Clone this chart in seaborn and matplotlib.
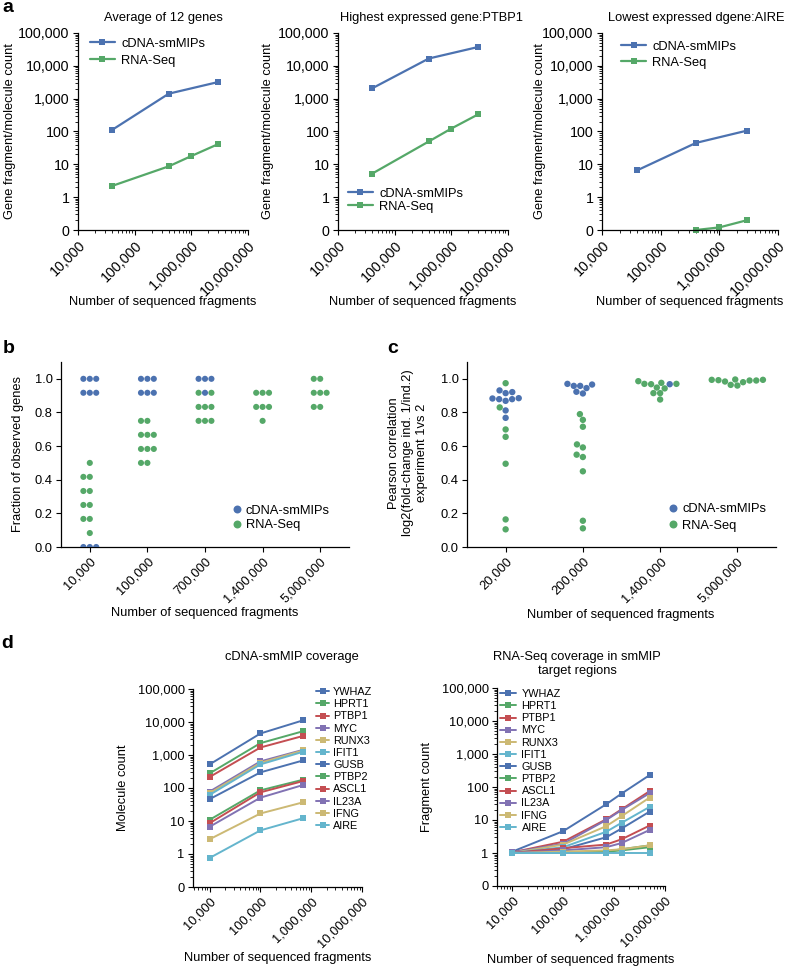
import numpy as np
import pandas as pd
import matplotlib.pyplot as plt
import seaborn as sns
from matplotlib.ticker import LogLocator, NullFormatter

sns.set_style("ticks", {"axes.edgecolor": "black", "text.color": "black",
                        "xtick.color": "black", "ytick.color": "black",
                        "axes.labelcolor": "black"})
plt.rcParams["font.family"] = ["Liberation Sans", "DejaVu Sans"]

W, H = 788, 967
blue, green = "#4C72B0", "#55A868"
methods = ["cDNA-smMIPs", "RNA-Seq"]

# ---------------- panel a (log axes, the floor 0.1 is labelled "0")
a_titles = ["Average of 12 genes", "Highest expressed gene:PTBP1", "Lowest expressed dgene:AIRE"]
a_cdna_x = [40000, 400000, 3000000]
a_rna_x = [40000, 400000, 1000000, 3000000]
avg_cdna = [112, 1420, 3220]
avg_rna = [2.2, 8.7, 17.9, 41.6]
ptbp1_cdna = [2060, 16700, 37600]
ptbp1_rna = [5.2, 49.7, 123, 335]
aire_cdna = [6.6, 45, 107]
aire_rna = [np.nan, 0.1, 0.12, 0.2]

count_ticks = [0.1, 1, 10, 100, 1000, 10000, 100000]
count_labels = ["0", "1", "10", "100", "1,000", "10,000", "100,000"]
frag_ticks = [1e4, 1e5, 1e6, 1e7]
frag_labels = ["10,000", "100,000", "1,000,000", "10,000,000"]

# ---------------- panel b: fraction of observed genes
b_cats = ["10,000", "100,000", "700,000", "1,400,000", "5,000,000"]
b_cdna = [
    [1.0, 1.0, 1.0, 0.917, 0.917, 0.917, 0.0, 0.0, 0.0],
    [1.0, 1.0, 1.0, 0.917, 0.917, 0.917],
    [1.0, 1.0, 1.0, 0.917],
    [],
    [],
]
b_rna = [
    [0.5, 0.417, 0.417, 0.333, 0.333, 0.25, 0.25, 0.167, 0.167, 0.083],
    [0.75, 0.75, 0.667, 0.667, 0.667, 0.583, 0.583, 0.583, 0.5, 0.5],
    [0.917, 0.917, 0.833, 0.833, 0.833, 0.75, 0.75, 0.75],
    [0.917, 0.917, 0.917, 0.833, 0.833, 0.833, 0.75],
    [1.0, 1.0, 0.917, 0.917, 0.917, 0.833, 0.833],
]
frac_ticks = [0.0, 0.2, 0.4, 0.6, 0.8, 1.0]

# ---------------- panel c: pearson correlation
c_cats = ["20,000", "200,000", "1,400,000", "5,000,000"]
c_cdna = [
    [0.931, 0.915, 0.921, 0.885, 0.879, 0.869, 0.879, 0.883, 0.812, 0.768],
    [0.970, 0.958, 0.958, 0.945, 0.966, 0.923, 0.913],
    [0.968],
    [],
]
c_rna = [
    [0.974, 0.83, 0.699, 0.655, 0.495, 0.164, 0.105],
    [0.79, 0.756, 0.715, 0.61, 0.592, 0.549, 0.535, 0.45, 0.156, 0.111],
    [0.976, 0.968, 0.948, 0.970, 0.986, 0.970, 0.915, 0.915, 0.943, 0.877],
    [0.996, 0.994, 0.992, 0.990, 0.964, 0.960, 0.980, 0.984, 0.990, 0.994],
]

# ---------------- panel d: per-gene coverage
d_genes = ["YWHAZ", "HPRT1", "PTBP1", "MYC", "RUNX3", "IFIT1",
           "GUSB", "PTBP2", "ASCL1", "IL23A", "IFNG", "AIRE"]
d_cdna_x = [10000, 100000, 700000]
d_cdna = [
    [520, 4490, 11300],
    [278, 2290, 5280],
    [216, 1690, 3800],
    [78, 640, 1440],
    [70, 580, 1380],
    [62, 520, 1260],
    [46, 298, 687],
    [10.9, 85, 179],
    [8.6, 74, 163],
    [6.7, 51, 124],
    [2.8, 16.9, 37],
    [0.76, 5.2, 12.2],
]
d_rna_x = [10000, 100000, 700000, 1400000, 5000000]
d_rna = [
    [1.1, 4.6, 30, 63, 230],
    [1.0, 1.05, 1.1, 1.2, 1.5],
    [1.05, 2.2, 10.5, 21, 75],
    [1.05, 1.9, 10, 20, 65],
    [1.0, 1.8, 6.5, 13, 48],
    [1.0, 1.5, 4.4, 8.2, 25],
    [1.0, 1.3, 3.0, 5.5, 18],
    [1.0, 1.0, 1.1, 1.3, 1.7],
    [1.0, 1.4, 1.8, 2.6, 6.8],
    [1.0, 1.2, 1.5, 2.0, 5.0],
    [1.0, 1.1, 1.2, 1.3, 1.7],
    [1.0, 1.0, 1.0, 1.0, 1.0],
]
gene_colors = sns.color_palette("deep6") * 2

fig = plt.figure(figsize=(W / 100, H / 100), dpi=100)
FS = 9.3


def add_ax(box):
    l, t, r, b = box
    return fig.add_axes([l / W, 1 - b / H, (r - l) / W, (b - t) / H])


def put_labels(ax, box, xlabel, xpos, ylabel, ypos):
    # place axis label centres at pixel positions
    l, t, r, b = box
    ax.set_xlabel(xlabel, fontsize=FS, va="center", ha="center")
    ax.xaxis.set_label_coords((xpos[0] - l) / (r - l), (b - xpos[1]) / (b - t))
    ax.set_ylabel(ylabel, fontsize=FS, va="center", ha="center", linespacing=1.2)
    ax.yaxis.set_label_coords((ypos[0] - l) / (r - l), (b - ypos[1]) / (b - t))


def px_text(x, y, s, **kw):
    fig.text(x / W, 1 - y / H, s, **kw)


def style_ticks(ax, size):
    ax.tick_params(which="major", length=3.5, width=0.8, pad=2.5, labelsize=size)
    ax.tick_params(which="minor", length=2, width=0.6)
    for sp in ax.spines.values():
        sp.set_linewidth(0.9)
    sns.despine(ax=ax)
    plt.setp(ax.get_xticklabels(), rotation=45, ha="right", rotation_mode="anchor")


def log_axes(ax, xmin, size):
    ax.set_xscale("log")
    ax.set_yscale("log")
    ax.set_xlim(xmin, 1e7)
    ax.set_ylim(0.1, 1e5)
    ax.set_xticks(frag_ticks, frag_labels)
    ax.set_yticks(count_ticks, count_labels)
    for axis in (ax.xaxis, ax.yaxis):
        axis.set_minor_locator(LogLocator(base=10, subs=np.arange(2, 10), numticks=100))
        axis.set_minor_formatter(NullFormatter())
    style_ticks(ax, size)


# ---------------- panel a
a_boxes = [(78, 33, 248, 230), (338, 33, 508, 230), (602, 33, 778, 230)]
a_data = [(avg_cdna, avg_rna), (ptbp1_cdna, ptbp1_rna), (aire_cdna, aire_rna)]
a_title_x = [163, 432, 696]
a_ylab_x = [10, 268, 540]
a_leg = [((0.071, 0.975), 0.35), ((0.059, 0.215), 0.1), ((0.11, 0.96), 0.3)]

for box, (cdna, rna), title, tx, yx, (anchor, lsp) in zip(
        a_boxes, a_data, a_titles, a_title_x, a_ylab_x, a_leg):
    ax = add_ax(box)
    df = pd.concat([
        pd.DataFrame({"fragments": a_cdna_x, "count": cdna, "method": methods[0]}),
        pd.DataFrame({"fragments": a_rna_x, "count": rna, "method": methods[1]}),
    ]).dropna()
    sns.lineplot(data=df, x="fragments", y="count", hue="method", hue_order=methods,
                 palette=[blue, green], marker="s", markersize=4.6, markeredgewidth=0,
                 linewidth=1.6, errorbar=None, clip_on=False, ax=ax)
    log_axes(ax, 1e4, 10.3)
    put_labels(ax, box, "Number of sequenced fragments", ((box[0] + box[2]) / 2, 302),
               "Gene fragment/molecule count", (yx, 131))
    px_text(tx, 18, title, ha="center", va="center", fontsize=FS)
    sns.move_legend(ax, "upper left", bbox_to_anchor=anchor, frameon=False, title=None,
                    fontsize=FS, handlelength=1.9, handletextpad=0.5,
                    labelspacing=lsp, borderpad=0, borderaxespad=0)


# ---------------- panels b and c
def swarm_frame(cats, cdna, rna, col):
    rows = []
    for cat, vals in zip(cats, cdna):
        rows += [(cat, v, methods[0]) for v in vals]
    for cat, vals in zip(cats, rna):
        rows += [(cat, v, methods[1]) for v in vals]
    return pd.DataFrame(rows, columns=["fragments", col, "method"])


box_b = (61, 362, 349, 547)
ax_b = add_ax(box_b)
sns.swarmplot(data=swarm_frame(b_cats, b_cdna, b_rna, "fraction"), x="fragments",
              y="fraction", hue="method", order=b_cats, hue_order=methods,
              palette=[blue, green], size=4.4, ax=ax_b)
ax_b.set_ylim(0, 1.1)
ax_b.set_yticks(frac_ticks, [f"{v:.1f}" for v in frac_ticks])
style_ticks(ax_b, FS)
put_labels(ax_b, box_b, "Number of sequenced fragments", (205, 613),
           "Fraction of observed genes", (18, 454))
sns.move_legend(ax_b, "upper left", bbox_to_anchor=(0.592, 0.229), frameon=False,
                title=None, fontsize=FS, markerscale=1.3, handlelength=0.8,
                handletextpad=0.3, labelspacing=0.2, borderpad=0, borderaxespad=0)

box_c = (467, 362, 776, 547)
ax_c = add_ax(box_c)
sns.swarmplot(data=swarm_frame(c_cats, c_cdna, c_rna, "r"), x="fragments", y="r",
              hue="method", order=c_cats, hue_order=methods,
              palette=[blue, green], size=4.6, ax=ax_c)
ax_c.set_ylim(0, 1.1)
ax_c.set_yticks(frac_ticks, [f"{v:.1f}" for v in frac_ticks])
style_ticks(ax_c, FS)
put_labels(ax_c, box_c, "Number of sequenced fragments", (621, 615),
           "Pearson correlation\nlog2(fold-change ind. 1/ind.2)\nexperiment 1vs 2", (408, 453))
sns.move_legend(ax_c, "upper left", bbox_to_anchor=(0.650, 0.236), frameon=False,
                title=None, fontsize=FS, markerscale=1.25, handlelength=0.8,
                handletextpad=0.3, labelspacing=0.33, borderpad=0, borderaxespad=0)

# ---------------- panel d
d_panels = [
    ((193, 689, 362, 887), d_cdna_x, d_cdna, 4700, "cDNA-smMIP coverage", (292, 657),
     "Molecule count", (123, 788), (278, 958), (0.73, 1.01), 1.2, 0.35),
    ((497, 688, 665, 886), d_rna_x, d_rna, 5000, "RNA-Seq coverage in smMIP\ntarget regions",
     (577, 664), "Fragment count", (427, 787), (581, 960), (0.02, 0.995), 1.4, 0.55),
]
for (box, xs, vals, xmin, title, tpos, ylab, ypos, xpos, anchor, hl, hp) in d_panels:
    ax = add_ax(box)
    df = pd.DataFrame([(g, x, v) for g, row in zip(d_genes, vals) for x, v in zip(xs, row)],
                      columns=["gene", "fragments", "count"])
    sns.lineplot(data=df, x="fragments", y="count", hue="gene", hue_order=d_genes,
                 palette=gene_colors, marker="s", markersize=4, markeredgewidth=0,
                 linewidth=1.4, errorbar=None, ax=ax)
    log_axes(ax, xmin, FS)
    put_labels(ax, box, "Number of sequenced fragments", xpos, ylab, ypos)
    px_text(tpos[0], tpos[1], title, ha="center", va="center", fontsize=FS, linespacing=1.2)
    sns.move_legend(ax, "upper left", bbox_to_anchor=anchor, frameon=False, title=None,
                    fontsize=7.8, handlelength=hl, handletextpad=hp, labelspacing=0.2,
                    markerscale=1.2, borderpad=0, borderaxespad=0)

# panel letters
for s, x, y in [("a", 2, 12), ("b", 3, 353), ("c", 387, 353), ("d", 1, 648)]:
    px_text(x, y, s, fontsize=14, fontweight="bold", va="baseline")

fig.savefig("out.png", dpi=100)
